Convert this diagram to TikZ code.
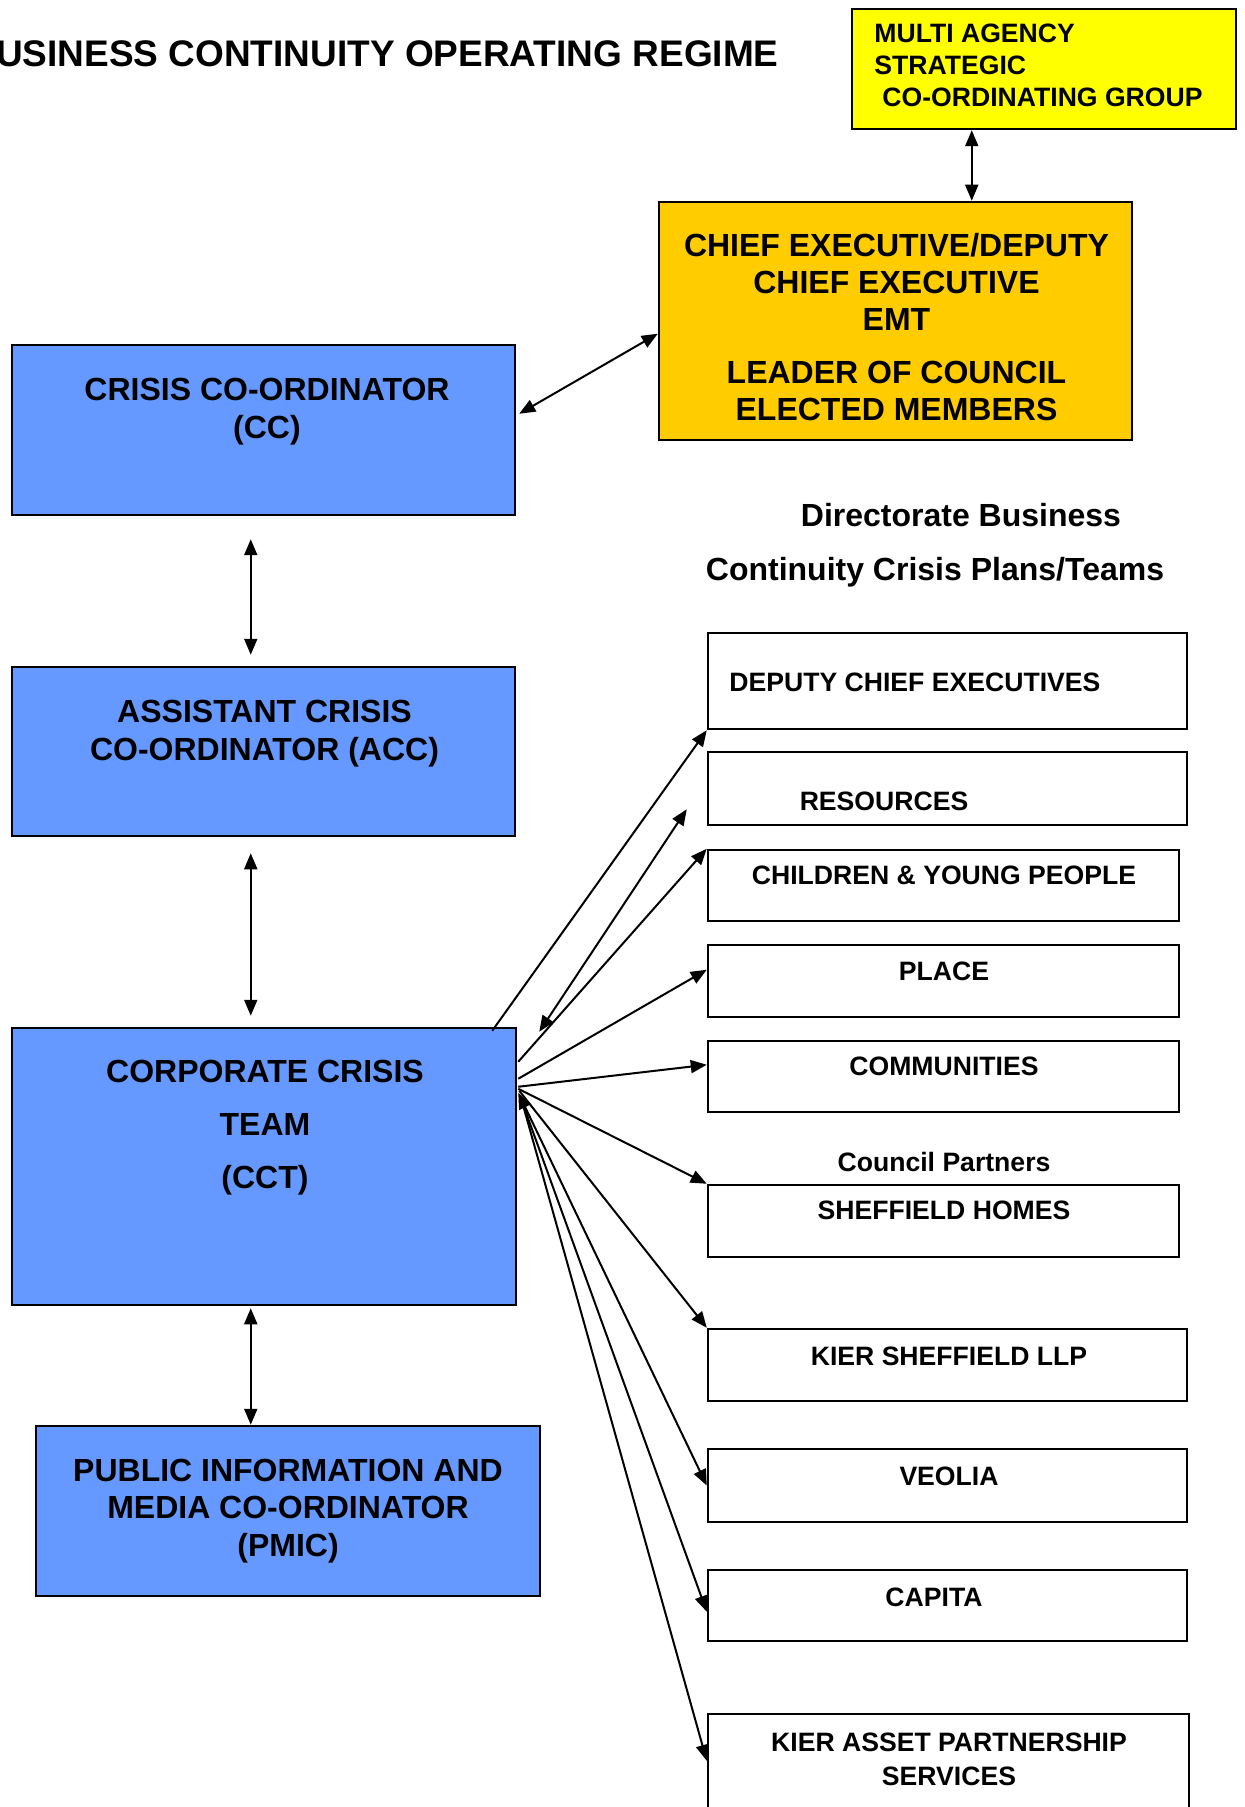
\documentclass[tikz,border=0pt]{standalone}
\usepackage{fontspec}
\setmainfont{Liberation Sans}
\usetikzlibrary{arrows.meta,fit,calc}
\definecolor{boxblue}{HTML}{6699FF}
\definecolor{ceorange}{HTML}{FFCC00}
\definecolor{mayellow}{HTML}{FFFF00}
\begin{document}
\begin{tikzpicture}[x=0.5pt,y=-0.5pt,
  frame/.style={draw=black, line width=1.25pt, inner sep=0pt},
  bluebox/.style={frame, fill=boxblue},
  wbox/.style={frame, fill=white},
  lbl/.style={inner sep=0pt, font=\fontsize{16}{18.5}\selectfont\bfseries, align=center},
  slbl/.style={inner sep=0pt, font=\fontsize{13.3}{16}\selectfont\bfseries, align=center},
  conn/.style={line width=1pt, -{Triangle[length=8pt,width=6.5pt]}},
  dconn/.style={line width=1pt, {Triangle[length=8pt,width=6.5pt]}-{Triangle[length=8pt,width=6.5pt]}},
]
\useasboundingbox (0,0) rectangle (1245,1807);
\clip (0,0) rectangle (1245,1807);
\fill[white] (0,0) rectangle (1245,1807);

% title
\node[inner sep=0pt, anchor=east, font=\fontsize{18.5}{22}\selectfont\bfseries] (title) at (779,54) {BUSINESS CONTINUITY OPERATING REGIME};

% main boxes
\node[frame, fill=mayellow, fit={(852,9)(1236,129)}] (mascg) {};
\node[frame, fill=ceorange, fit={(659,202)(1132,440)}] (chief) {};
\node[bluebox, fit={(12,345)(515,515)}] (cc) {};
\node[bluebox, fit={(12,667)(515,836)}] (acc) {};
\node[bluebox, fit={(12,1028)(516,1305)}] (cct) {};
\node[bluebox, fit={(36,1426)(540,1596)}] (pmic) {};

% right boxes
\node[wbox, fit={(708,633)(1187,729)}] (dce) {};
\node[wbox, fit={(708,752)(1187,825)}] (res) {};
\node[wbox, fit={(708,850)(1179,921)}] (cyp) {};
\node[wbox, fit={(708,945)(1179,1017)}] (place) {};
\node[wbox, fit={(708,1041)(1179,1112)}] (comm) {};
\node[wbox, fit={(708,1185)(1179,1257)}] (sh) {};
\node[wbox, fit={(708,1329)(1187,1401)}] (kier) {};
\node[wbox, fit={(708,1449)(1187,1522)}] (veolia) {};
\node[wbox, fit={(708,1570)(1187,1641)}] (capita) {};
\node[wbox, fit={(708,1714)(1189,1840)}] (kap) {};

% texts
\node[slbl, align=left, anchor=west] (mascgt) at (874,65.5) {MULTI AGENCY\\STRATEGIC\\\hspace*{4pt}CO-ORDINATING GROUP};
\node[lbl] (chieft) at (896.5,327.5) {CHIEF EXECUTIVE/DEPUTY\\CHIEF EXECUTIVE\\EMT\\[8pt]LEADER OF COUNCIL\\ELECTED MEMBERS};
\node[lbl, font=\fontsize{16}{19}\selectfont\bfseries] (cct0) at (267,412) {CRISIS CO-ORDINATOR\\(CC)};
\node[lbl, font=\fontsize{16}{19}\selectfont\bfseries] (acct) at (264.5,734) {ASSISTANT CRISIS\\CO-ORDINATOR (ACC)};
\node[lbl, font=\fontsize{16}{26.5}\selectfont\bfseries] (cctt) at (265,1128) {CORPORATE CRISIS\\TEAM\\(CCT)};
\node[lbl, font=\fontsize{16}{18.75}\selectfont\bfseries] (pmict) at (288,1511) {PUBLIC INFORMATION AND\\MEDIA CO-ORDINATOR\\(PMIC)};
\node[lbl, anchor=base] (dir1) at (961,526.5) {Directorate Business};
\node[lbl, anchor=base] (dir2) at (935,580.5) {Continuity Crisis Plans/Teams};

\node[slbl, anchor=base west] (dcet) at (729,691.5) {DEPUTY CHIEF EXECUTIVES};
\node[slbl, anchor=base] (rest) at (884,810.5) {RESOURCES};
\node[slbl, anchor=base] (cypt) at (944,884.5) {CHILDREN \& YOUNG PEOPLE};
\node[slbl, anchor=base] (placet) at (944,980.5) {PLACE};
\node[slbl, anchor=base] (commt) at (944,1075.5) {COMMUNITIES};
\node[slbl, anchor=base] (cpt) at (944,1171.5) {Council Partners};
\node[slbl, anchor=base] (sht) at (944,1219.5) {SHEFFIELD HOMES};
\node[slbl, anchor=base] (kiert) at (949,1365.5) {KIER SHEFFIELD LLP};
\node[slbl, anchor=base] (veoliat) at (949,1485.5) {VEOLIA};
\node[slbl, anchor=base] (capitat) at (934,1606.5) {CAPITA};
\node[slbl, font=\fontsize{13.3}{17}\selectfont\bfseries] (kapt) at (949,1759) {KIER ASSET PARTNERSHIP\\SERVICES};

% connectors
\draw[dconn] ($(mascg.south west)+(121,0)$) -- ($(chief.north west)+(314,0)$);
\draw[dconn] ($(cc.north east)+(3,70)$) -- ($(chief.north west)+(0,133)$);
\draw[dconn] ($(cc.south west)+(240,23)$) -- ($(acc.north west)+(240,-11)$);
\draw[dconn] ($(acc.south west)+(240,16)$) -- ($(cct.north west)+(240,-11)$);
\draw[dconn] ($(cct.south west)+(240,2)$) -- ($(pmic.north west)+(216,0)$);

\draw[conn] ($(cct.north east)+(-25,4)$) -- (dce.south west);
\draw[dconn] ($(cct.north east)+(22,5)$) -- ($(res.south west)+(-20,-17)$);
\draw[conn] ($(cct.north east)+(1,35)$) -- (cyp.north west);
\draw[conn] ($(cct.north east)+(1,52)$) -- ($(place.north west)+(0,26)$);
\draw[conn] ($(cct.north east)+(1,60)$) -- ($(comm.north west)+(0,25)$);
\draw[conn] ($(cct.north east)+(1,62)$) -- (sh.north west);
\draw[conn] ($(cct.north east)+(2,64)$) -- (kier.north west);
\draw[dconn] ($(cct.north east)+(1,66)$) -- (veolia.west);
\draw[conn] ($(cct.north east)+(3,70)$) -- ($(capita.north west)+(0,43)$);
\draw[conn] ($(cct.north east)+(4,72)$) -- ($(kap.north west)+(0,48)$);
\end{tikzpicture}
\end{document}
